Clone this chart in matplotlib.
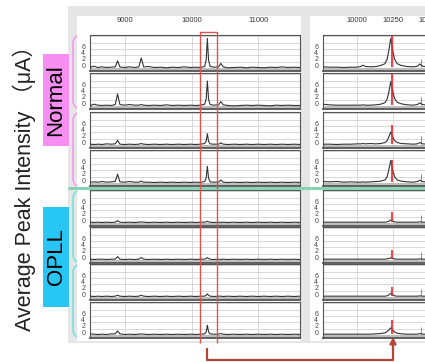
import matplotlib.pyplot as plt
from matplotlib.patches import Rectangle, FancyArrowPatch
from matplotlib.lines import Line2D
from matplotlib.transforms import ScaledTranslation

plt.rcParams['font.family'] = ['Liberation Sans', 'Noto Sans CJK SC', 'DejaVu Sans']

W, H = 425, 362

# left panel: wide m/z window, shared m/z positions for all 8 traces
left_mz = [8480, 8530, 8590, 8650, 8720, 8790, 8850, 8885,
           8920, 8990, 9070, 9140, 9205, 9241, 9277, 9350,
           9440, 9530, 9620, 9710, 9800, 9890, 9980, 10060,
           10130, 10195, 10218, 10236, 10254, 10277, 10330, 10405,
           10439, 10475, 10550, 10640, 10730, 10820, 10910, 11000,
           11090, 11180, 11270, 11360, 11450, 11540, 11630]

left_rows = [
    # Normal
    [0.3, 0.6, 0.2, 0.4, 0.2, 0.3, 0.4, 2.3,
     0.4, 0.2, 0.4, 0.2, 0.4, 3.2, 0.4, 0.5,
     0.2, 0.3, 0.1, 0.3, 0.2, 0.4, 0.2, 0.3,
     0.2, 0.5, 2.5, 9.3, 2.5, 0.6, 0.3, 0.4,
     1.5, 0.4, 0.1, 0.2, 0.3, 0.1, 0.3, 0.2,
     0.1, 0.3, 0.2, 0.4, 0.2, 0.3, 0.2],
    [0.2, 0.6, 0.3, 0.2, 0.3, 0.2, 0.5, 3.8,
     0.5, 0.3, 0.5, 0.3, 0.3, 0.5, 0.3, 0.2,
     0.3, 0.2, 0.4, 0.2, 0.3, 0.2, 0.3, 0.2,
     0.3, 0.6, 2.2, 7.9, 2.2, 0.5, 0.3, 0.4,
     1.4, 0.4, 0.2, 0.1, 0.2, 0.3, 0.2, 0.3,
     0.2, 0.1, 0.3, 0.2, 0.3, 0.2, 0.2],
    [0.3, 0.2, 0.3, 0.2, 0.4, 0.3, 0.4, 1.5,
     0.3, 0.2, 0.3, 0.2, 0.3, 0.5, 0.3, 0.2,
     0.3, 0.2, 0.3, 0.2, 0.3, 0.2, 0.3, 0.2,
     0.3, 0.5, 1.2, 3.6, 1.2, 0.4, 0.3, 0.3,
     0.7, 0.3, 0.2, 0.3, 0.2, 0.3, 0.2, 0.3,
     0.2, 0.3, 0.2, 0.3, 0.2, 0.3, 0.2],
    [0.3, 0.4, 0.3, 0.5, 0.3, 0.4, 0.5, 2.8,
     0.4, 0.3, 0.5, 0.3, 0.3, 0.6, 0.3, 0.3,
     0.2, 0.3, 0.2, 0.3, 0.2, 0.3, 0.2, 0.3,
     0.2, 0.5, 1.6, 5.3, 1.6, 0.4, 0.3, 0.3,
     1.0, 0.3, 0.2, 0.3, 0.2, 0.3, 0.2, 0.3,
     0.2, 0.3, 0.2, 0.3, 0.2, 0.3, 0.2],
    # OPLL
    [0.3, 0.2, 0.3, 0.2, 0.3, 0.2, 0.3, 0.8,
     0.3, 0.2, 0.3, 0.2, 0.3, 0.4, 0.3, 0.2,
     0.3, 0.2, 0.3, 0.2, 0.3, 0.2, 0.3, 0.2,
     0.3, 0.3, 0.4, 0.6, 0.4, 0.3, 0.2, 0.3,
     0.2, 0.3, 0.2, 0.3, 0.2, 0.3, 0.2, 0.3,
     0.2, 0.3, 0.2, 0.3, 0.2, 0.3, 0.2],
    [0.3, 0.2, 0.3, 0.3, 0.2, 0.3, 0.3, 1.1,
     0.3, 0.2, 0.3, 0.2, 0.3, 0.8, 0.3, 0.2,
     0.3, 0.2, 0.3, 0.2, 0.3, 0.2, 0.3, 0.2,
     0.3, 0.3, 0.5, 0.8, 0.5, 0.3, 0.2, 0.3,
     0.2, 0.3, 0.2, 0.3, 0.2, 0.3, 0.2, 0.3,
     0.2, 0.3, 0.2, 0.3, 0.2, 0.3, 0.2],
    [0.3, 0.2, 0.3, 0.2, 0.3, 0.2, 0.3, 0.6,
     0.3, 0.2, 0.3, 0.2, 0.3, 0.6, 0.3, 0.2,
     0.3, 0.2, 0.3, 0.2, 0.3, 0.2, 0.3, 0.2,
     0.3, 0.3, 0.6, 1.0, 0.6, 0.3, 0.2, 0.3,
     0.3, 0.2, 0.3, 0.2, 0.3, 0.2, 0.3, 0.2,
     0.3, 0.2, 0.3, 0.2, 0.3, 0.2, 0.3],
    [0.4, 0.3, 0.2, 0.3, 0.2, 0.4, 0.4, 1.3,
     0.4, 0.2, 0.3, 0.2, 0.3, 0.4, 0.3, 0.2,
     0.3, 0.2, 0.3, 0.2, 0.3, 0.2, 0.3, 0.2,
     0.3, 0.4, 1.0, 3.1, 1.0, 0.4, 0.3, 0.3,
     0.5, 0.3, 0.2, 0.3, 0.2, 0.3, 0.2, 0.3,
     0.2, 0.3, 0.2, 0.3, 0.2, 0.3, 0.2],
]

# right panel: zoom around the 10250 peak
right_mz = [9765, 9810, 9860, 9910, 9960, 10000, 10025,
            10042, 10060, 10095, 10130, 10165, 10195, 10210,
            10222, 10235, 10248, 10262, 10280, 10310, 10350,
            10390, 10420, 10437, 10455, 10490, 10530, 10570]

right_rows = [
    [0.4, 0.3, 0.3, 0.2, 0.3, 0.3, 0.5,
     0.9, 0.5, 0.4, 0.5, 0.8, 1.4, 2.8,
     5.6, 9.3, 5.6, 2.8, 1.4, 0.8, 0.5,
     0.4, 0.6, 1.3, 0.6, 0.4, 0.3, 0.3],
    [0.6, 0.4, 0.3, 0.3, 0.3, 0.3, 0.3,
     0.4, 0.3, 0.3, 0.4, 0.6, 1.1, 2.2,
     4.4, 7.7, 4.8, 2.4, 1.2, 0.7, 0.4,
     0.3, 0.5, 1.0, 0.5, 0.3, 0.3, 0.3],
    [0.3, 0.3, 0.2, 0.3, 0.3, 0.4, 0.4,
     0.5, 0.4, 0.5, 0.4, 0.5, 0.8, 1.4,
     2.6, 4.1, 2.6, 1.4, 0.8, 0.5, 0.4,
     0.3, 0.4, 0.8, 0.4, 0.3, 0.3, 0.3],
    [0.5, 0.4, 0.5, 0.3, 0.4, 0.3, 0.3,
     0.4, 0.3, 0.4, 0.5, 0.6, 1.0, 2.0,
     4.2, 7.1, 4.2, 2.0, 1.0, 0.6, 0.4,
     0.3, 0.5, 0.9, 0.5, 0.3, 0.3, 0.3],
    [0.3, 0.3, 0.3, 0.3, 0.3, 0.3, 0.3,
     0.3, 0.3, 0.3, 0.3, 0.3, 0.3, 0.4,
     0.6, 1.0, 0.6, 0.4, 0.3, 0.3, 0.3,
     0.3, 0.3, 0.4, 0.3, 0.3, 0.3, 0.3],
    [0.3, 0.3, 0.3, 0.3, 0.3, 0.3, 0.3,
     0.3, 0.3, 0.3, 0.3, 0.3, 0.3, 0.4,
     0.5, 0.7, 0.5, 0.4, 0.3, 0.3, 0.3,
     0.3, 0.3, 0.4, 0.3, 0.3, 0.3, 0.3],
    [0.3, 0.3, 0.3, 0.3, 0.3, 0.3, 0.3,
     0.3, 0.3, 0.3, 0.3, 0.3, 0.3, 0.4,
     0.7, 1.2, 0.7, 0.4, 0.3, 0.3, 0.3,
     0.3, 0.3, 0.4, 0.3, 0.3, 0.3, 0.3],
    [0.3, 0.3, 0.3, 0.3, 0.3, 0.3, 0.3,
     0.3, 0.3, 0.3, 0.4, 0.5, 0.7, 1.1,
     1.6, 2.3, 1.6, 1.0, 0.6, 0.4, 0.3,
     0.3, 0.3, 0.5, 0.3, 0.3, 0.3, 0.3],
]

marker_mz = 10243
marker_h = [10.5, 10.2, 6.2, 7.4, 3.4, 3.1, 3.1, 4.6]
side_mz = 10442
side_h = [2.9, 3.0, 3.0, 3.0, 2.5, 2.5, 2.5, 2.5]

left_ticks = [9000, 10000, 11000]
right_ticks = [10000, 10250, 10500]
y_ticks = [0, 2, 4, 6]
y_grid = [8, 10]
groups = ['Normal', 'OPLL']
ylabel = 'Average Peak Intensity （μA）'


def fx(x):
    return x / W


def fy(y):
    return 1 - y / H


def add_rect(x0, y0, x1, y1, color, z):
    fig.add_artist(Rectangle((fx(x0), fy(y1)), fx(x1) - fx(x0), (y1 - y0) / H,
                             transform=fig.transFigure, facecolor=color,
                             edgecolor='none', zorder=z))


def add_line(xs, ys, color, lw, z):
    fig.add_artist(Line2D([fx(v) for v in xs], [fy(v) for v in ys],
                          transform=fig.transFigure, color=color, lw=lw,
                          zorder=z, solid_capstyle='butt'))


fig = plt.figure(figsize=(W / 100, H / 100), dpi=100)
fig.patch.set_facecolor('white')

# gray window backgrounds
add_rect(68, 6, 425, 343, '#e6e6e6', -3)
add_rect(77, 16, 301, 341, 'white', -2)
add_rect(310, 16, 425, 341, 'white', -2)

row_tops = [35, 73, 112, 150, 190, 227, 264, 302]
row_h = 36
up = ScaledTranslation(0, 0.03, fig.dpi_scale_trans)


def style_axis(ax, xlim, xticks, first):
    ax.set_xlim(*xlim)
    ax.set_ylim(-0.9, 10.4)
    ax.axhspan(-0.9, 0.0, color='#bdbdbd', lw=0, zorder=1)
    ax.set_xticks(xticks)
    ax.set_yticks(y_ticks)
    ax.set_yticks(y_grid, minor=True)
    ax.grid(True, which='both', color='#d2d2d2', lw=0.6)
    ax.set_axisbelow(True)
    ax.tick_params(which='both', length=0)
    ax.tick_params(axis='y', labelsize=5, pad=3.5, colors='#444444')
    ax.xaxis.set_ticks_position('top')
    ax.tick_params(axis='x', labelsize=5.5, pad=8, labeltop=first,
                   labelbottom=False, colors='#333333')
    for lab in ax.get_yticklabels():
        lab.set_transform(lab.get_transform() + up)
    for s in ax.spines.values():
        s.set_color('#555555')
        s.set_linewidth(0.8)
    ax.spines['bottom'].set_linewidth(1.3)
    ax.spines['bottom'].set_color('#555555')


for i, top in enumerate(row_tops):
    bottom = top + row_h
    # left window
    ax = fig.add_axes([fx(90), fy(bottom), fx(300) - fx(90), row_h / H])
    ax.plot(left_mz, left_rows[i], color='#333333', lw=0.8, zorder=3)
    style_axis(ax, (8470, 11630), left_ticks, i == 0)

    # right window (runs past the edge of the picture)
    ax2 = fig.add_axes([fx(323), fy(bottom), 116 / W, row_h / H])
    ax2.plot(right_mz, right_rows[i], color='#333333', lw=0.8, zorder=3)
    ax2.vlines(side_mz, 0.2, side_h[i], color='#8a8a8a', lw=0.7, zorder=2)
    ax2.vlines(marker_mz, 0.2, marker_h[i], color='#e3262b', lw=1.2, zorder=5)
    style_axis(ax2, (9765, 10570), right_ticks, i == 0)

# separator between groups
add_line([68, 425], [188, 188], '#86d3b8', 2.2, 6)

# brackets pairing rows
for (t, b), c in zip([(36, 108), (113, 186), (191, 262), (265, 337)],
                     ['#f2a0ea', '#f2a0ea', '#80e2e0', '#80e2e0']):
    add_line([77, 74.5, 73, 73, 74.5, 77], [t, t + 2, t + 6, b - 6, b - 2, b], c, 1.3, 4)

# group labels
add_rect(43, 54, 69, 146, '#f78ef2', 3)
add_rect(43, 207, 69, 307, '#28c6f4', 3)
fig.text(fx(56), fy(100), groups[0], rotation=90, ha='center', va='center',
         fontsize=16, color='black', zorder=4)
fig.text(fx(56), fy(257), groups[1], rotation=90, ha='center', va='center',
         fontsize=16, color='black', zorder=4)

fig.text(fx(24), fy(183), ylabel, rotation=90, ha='center', va='center',
         fontsize=15.5, color='#222222')

# red window around the 10250 peak and arrow to the zoomed view
add_line([200, 200, 217, 217], [343, 32, 32, 343], '#d9534f', 1.0, 10)
add_line([207, 207, 393, 393], [348, 360, 360, 348], '#b5453b', 1.6, 10)
fig.add_artist(FancyArrowPatch((fx(393), fy(350)), (fx(393), fy(337)),
                               transform=fig.transFigure, arrowstyle='-|>',
                               mutation_scale=9, color='#b5453b', lw=1.6,
                               shrinkA=0, shrinkB=0, zorder=10))

fig.savefig('out.png', dpi=100)
